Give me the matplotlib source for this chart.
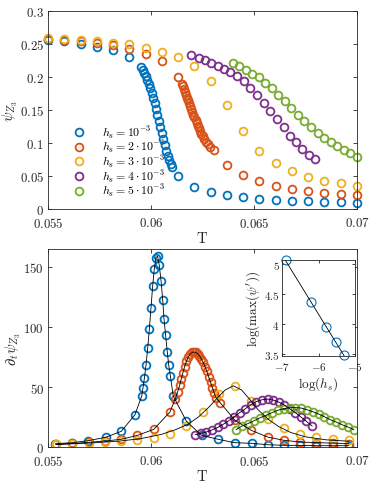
import numpy as np
import matplotlib
matplotlib.use("Agg")
import matplotlib.pyplot as plt
from matplotlib.ticker import FuncFormatter

plt.rcParams["mathtext.fontset"] = "cm"
plt.rcParams["font.family"] = "serif"

# ================ colours (MATLAB default order) ================
C_BLUE   = "#0072BD"
C_ORANGE = "#D95319"
C_YELLOW = "#EDB120"
C_PURPLE = "#7E2F8E"
C_GREEN  = "#77AC30"
C_AXIS   = "#262626"

# ================ top panel: psi_Z3 vs T ================
blue_T = [0.05500, 0.05579, 0.05658, 0.05737, 0.05816, 0.05895,
          0.05953, 0.05960, 0.05967, 0.05974, 0.05981, 0.05988, 0.05996, 0.06003,
          0.06010, 0.06017, 0.06024, 0.06031, 0.06038, 0.06045, 0.06052, 0.06059,
          0.06066, 0.06074, 0.06081, 0.06088, 0.06095, 0.06102,
          0.06132, 0.06211, 0.06289, 0.06368, 0.06447, 0.06526, 0.06605, 0.06684,
          0.06763, 0.06842, 0.06921, 0.07000]
blue_v = [0.2565, 0.2540, 0.2505, 0.2460, 0.2403, 0.2301,
          0.2150, 0.2109, 0.2064, 0.2013, 0.1958, 0.1897, 0.1831, 0.1760,
          0.1684, 0.1603, 0.1517, 0.1431, 0.1340, 0.1249, 0.1153, 0.1062,
          0.0971, 0.0885, 0.0809, 0.0744, 0.0688, 0.0632,
          0.0506, 0.0339, 0.0263, 0.0215, 0.0180, 0.0152, 0.0137, 0.0126,
          0.0116, 0.0108, 0.0101, 0.0091]

orange_T = [0.05500, 0.05579, 0.05658, 0.05737, 0.05816, 0.05895, 0.05974, 0.06053,
            0.06129, 0.06150, 0.06157, 0.06161, 0.06166, 0.06171, 0.06176, 0.06181,
            0.06186, 0.06191, 0.06196, 0.06201, 0.06205, 0.06210, 0.06217, 0.06222,
            0.06227, 0.06232, 0.06238, 0.06245, 0.06251, 0.06258, 0.06266, 0.06275,
            0.06285, 0.06304,
            0.06368, 0.06447, 0.06526, 0.06605, 0.06684, 0.06763, 0.06842, 0.06921,
            0.07000]
orange_v = [0.2575, 0.2560, 0.2540, 0.2515, 0.2480, 0.2425, 0.2350, 0.2238,
            0.1998, 0.1897, 0.1857, 0.1816, 0.1771, 0.1730, 0.1684, 0.1644,
            0.1603, 0.1557, 0.1517, 0.1472, 0.1431, 0.1391, 0.1350, 0.1310,
            0.1264, 0.1224, 0.1184, 0.1143, 0.1103, 0.1062, 0.1022, 0.0981,
            0.0941, 0.0895,
            0.0668, 0.0516, 0.0418, 0.0350, 0.0303, 0.0268, 0.0243, 0.0225,
            0.0207]

yellow_T = [0.05500, 0.05579, 0.05658, 0.05737, 0.05816, 0.05895, 0.05974, 0.06053,
            0.06132, 0.06211, 0.06289, 0.06368, 0.06447, 0.06526, 0.06605, 0.06684,
            0.06763, 0.06842, 0.06921, 0.07000]
yellow_v = [0.2595, 0.2580, 0.2554, 0.2539, 0.2519, 0.2494, 0.2443, 0.2377,
            0.2301, 0.2160, 0.1932, 0.1578, 0.1179, 0.0885, 0.0698, 0.0572,
            0.0491, 0.0430, 0.0389, 0.0344]

purple_T = [0.06196, 0.06231, 0.06262, 0.06293, 0.06324, 0.06354, 0.06385, 0.06417,
            0.06450, 0.06482, 0.06515, 0.06547, 0.06579, 0.06612, 0.06644, 0.06676,
            0.06706, 0.06735, 0.06765, 0.06798]
purple_v = [0.2327, 0.2286, 0.2256, 0.2215, 0.2165, 0.2114, 0.2074, 0.2013,
            0.1932, 0.1831, 0.1720, 0.1608, 0.1487, 0.1366, 0.1239, 0.1113,
            0.1012, 0.0910, 0.0825, 0.0759]

green_T = [0.06396, 0.06428, 0.06460, 0.06491, 0.06523, 0.06555, 0.06587, 0.06618,
           0.06650, 0.06682, 0.06714, 0.06745, 0.06777, 0.06809, 0.06841, 0.06872,
           0.06904, 0.06936, 0.06968, 0.07000]
green_v = [0.2210, 0.2165, 0.2109, 0.2049, 0.1994, 0.1912, 0.1826, 0.1730,
           0.1634, 0.1527, 0.1426, 0.1330, 0.1239, 0.1158, 0.1082, 0.1012,
           0.0950, 0.0900, 0.0845, 0.0794]

# ================ bottom panel: d/dt psi_Z3 vs T ================
blue_b_T = [0.05536, 0.05618, 0.05696, 0.05780, 0.05856, 0.05922, 0.05955, 0.05961,
            0.05968, 0.05976, 0.05984, 0.05992, 0.06000, 0.06008, 0.06016, 0.06024,
            0.06032, 0.06040, 0.06049, 0.06057, 0.06063, 0.06071, 0.06079, 0.06086,
            0.06094, 0.06108, 0.06172, 0.06246, 0.06327, 0.06406, 0.06489, 0.06568,
            0.06647, 0.06725, 0.06803, 0.06882, 0.06960]
blue_b_v = [2.8, 3.6, 5.3, 8.1, 13.1, 26.9, 42.5, 49.2,
            57.5, 68.6, 82.5, 98.6, 116.1, 133.9, 148.6, 157.8,
            158.9, 151.4, 138.1, 122.2, 106.9, 93.1, 79.2, 68.1,
            59.2, 42.5, 21.4, 9.7, 6.4, 3.6, 3.1, 1.9,
            1.4, 1.4, 1.1, 1.1, 1.1]

orange_b_T = [0.05539, 0.05618, 0.05697, 0.05776, 0.05855, 0.05934, 0.06013, 0.06092,
              0.06118, 0.06129, 0.06139, 0.06147, 0.06155, 0.06163, 0.06172, 0.06181,
              0.06190, 0.06199, 0.06208, 0.06217, 0.06226, 0.06235, 0.06244, 0.06253,
              0.06262, 0.06271, 0.06280, 0.06289, 0.06298, 0.06307, 0.06316, 0.06336,
              0.06408, 0.06487, 0.06566, 0.06645, 0.06724, 0.06803, 0.06882, 0.06960]
orange_b_v = [2.3, 3.0, 3.9, 5.0, 6.4, 9.7, 14.7, 29.2,
              40.3, 45.8, 51.4, 56.9, 62.0, 67.0, 71.5, 75.0,
              77.5, 78.8, 79.2, 78.8, 77.8, 76.0, 73.5, 70.5,
              67.0, 63.0, 58.5, 54.0, 49.5, 45.0, 41.0, 36.9,
              22.2, 13.9, 8.3, 5.6, 4.2, 3.6, 3.3, 2.8]

yellow_b_T = [0.05539, 0.05618, 0.05697, 0.05776, 0.05855, 0.05934, 0.06013, 0.06092,
              0.06171, 0.06250, 0.06329, 0.06408, 0.06487, 0.06566, 0.06645, 0.06724,
              0.06803, 0.06882, 0.06961]
yellow_b_v = [2.2, 2.5, 3.1, 3.9, 4.7, 6.1, 7.8, 10.8,
              17.2, 28.8, 44.4, 50.8, 38.2, 23.5, 16.0, 11.0,
              8.3, 6.7, 5.8]

# black fit through the sparse yellow points
yellow_fit_T = [0.05539, 0.0570, 0.0585, 0.0595, 0.0605, 0.0612, 0.0618, 0.0623,
                0.0628, 0.0632, 0.0636, 0.0640, 0.0644, 0.0648, 0.0652, 0.0657,
                0.0662, 0.0668, 0.0675, 0.0685, 0.06961]
yellow_fit_v = [2.0, 3.3, 5.0, 7.0, 10.5, 14.5, 19.0, 25.0,
                33.0, 40.5, 47.5, 51.0, 47.5, 39.5, 31.0, 23.0,
                17.0, 12.0, 8.5, 6.0, 4.8]

purple_b_T = [0.06215, 0.06243, 0.06269, 0.06296, 0.06324, 0.06350, 0.06377, 0.06405,
              0.06430, 0.06458, 0.06485, 0.06511, 0.06539, 0.06566, 0.06592, 0.06620,
              0.06647, 0.06673, 0.06701, 0.06728, 0.06754, 0.06782]
purple_b_v = [10.3, 11.4, 12.5, 14.2, 16.4, 18.9, 21.9, 25.3,
              28.6, 31.9, 35.3, 37.8, 39.4, 40.0, 39.2, 37.5,
              35.0, 31.9, 28.6, 25.0, 21.4, 17.5]

green_b_T = [0.06413, 0.06442, 0.06469, 0.06498, 0.06527, 0.06558, 0.06587, 0.06615,
             0.06644, 0.06673, 0.06701, 0.06728, 0.06757, 0.06786, 0.06814, 0.06841,
             0.06870, 0.06900, 0.06927, 0.06956, 0.06984]
green_b_v = [14.5, 17.5, 19.4, 21.7, 24.2, 26.4, 28.6, 30.6,
             31.9, 32.8, 32.8, 32.5, 31.1, 29.4, 27.5, 25.3,
             22.8, 20.8, 18.6, 16.7, 14.5]

# ================ inset: scaling of the peak height ================
log_h   = [-6.91, -6.21, -5.81, -5.52, -5.30]
log_max = [5.07, 4.38, 3.95, 3.70, 3.49]

labels = [r"$h_s = 10^{-3}$", r"$h_s = 2\cdot10^{-3}$", r"$h_s = 3\cdot10^{-3}$",
          r"$h_s = 4\cdot10^{-3}$", r"$h_s = 5\cdot10^{-3}$"]
colors = [C_BLUE, C_ORANGE, C_YELLOW, C_PURPLE, C_GREEN]

MS  = 5.6
MEW = 1.3
TICK_FS = 9.3
LABEL_FS = 10.5

math_fmt = FuncFormatter(lambda v, p: f"${v:g}$")


def style_axes(ax, fs=TICK_FS):
    for s in ax.spines.values():
        s.set_color(C_AXIS)
        s.set_linewidth(0.6)
    ax.tick_params(direction="in", top=True, right=True, length=3,
                   width=0.6, color=C_AXIS, labelcolor=C_AXIS, labelsize=fs, pad=3)
    ax.tick_params(axis="x", pad=5)
    ax.xaxis.set_major_formatter(math_fmt)
    ax.yaxis.set_major_formatter(math_fmt)


fig = plt.figure(figsize=(3.73, 4.89), dpi=100)

# -------- 1. Top panel --------
ax1 = fig.add_axes([0.1287, 0.5706, 0.8284, 0.4049])
top_sets = [(blue_T, blue_v), (orange_T, orange_v), (yellow_T, yellow_v),
            (purple_T, purple_v), (green_T, green_v)]
for (t, v), c, lab in zip(top_sets, colors, labels):
    ax1.plot(t, v, "o", mfc="none", mec=c, ms=MS, mew=MEW, label=lab, clip_on=False)
ax1.set_xlim(0.055, 0.07)
ax1.set_ylim(0, 0.3)
ax1.set_xticks([0.055, 0.06, 0.065, 0.07])
ax1.set_yticks([0, 0.05, 0.1, 0.15, 0.2, 0.25, 0.3])
style_axes(ax1)
ax1.set_xlabel(r"$\mathrm{T}$", fontsize=LABEL_FS, color=C_AXIS, labelpad=0)
ax1.set_ylabel(r"$\psi_{Z_3}$", fontsize=LABEL_FS, color=C_AXIS, labelpad=0)
leg = ax1.legend(loc="lower left", bbox_to_anchor=(0.065, 0.025), frameon=False,
                 fontsize=8.6, handlelength=1.0, handletextpad=1.4,
                 labelspacing=-0.2, borderaxespad=0)
leg.set_zorder(1)

# -------- 2. Bottom panel --------
ax2 = fig.add_axes([0.1287, 0.0838, 0.8284, 0.4050])
bot_sets = [(blue_b_T, blue_b_v), (orange_b_T, orange_b_v), (yellow_b_T, yellow_b_v),
            (purple_b_T, purple_b_v), (green_b_T, green_b_v)]
fit_sets = [(blue_b_T, blue_b_v), (orange_b_T, orange_b_v), (yellow_fit_T, yellow_fit_v),
            (purple_b_T, purple_b_v), (green_b_T, green_b_v)]
for (t, v), c in zip(bot_sets, colors):
    ax2.plot(t, v, "o", mfc="none", mec=c, ms=MS, mew=MEW, zorder=2)
for t, v in fit_sets:
    ax2.plot(t, v, "-", color="black", lw=0.6, zorder=3)
ax2.set_xlim(0.055, 0.07)
ax2.set_ylim(0, 165)
ax2.set_xticks([0.055, 0.06, 0.065, 0.07])
ax2.set_yticks([0, 50, 100, 150])
style_axes(ax2)
ax2.set_xlabel(r"$\mathrm{T}$", fontsize=LABEL_FS, color=C_AXIS, labelpad=0)
ax2.set_ylabel(r"$\partial_t\psi_{Z_3}$", fontsize=LABEL_FS, color=C_AXIS, labelpad=0)

# -------- 3. Inset --------
ax3 = fig.add_axes([0.7568, 0.2695, 0.1949, 0.1975])
ax3.plot(log_h, log_max, "o", mfc="none", mec=C_BLUE, ms=6.5, mew=0.8, clip_on=False)
coef = np.polyfit(log_h, log_max, 1)
xf = np.array([log_h[0], log_h[-1]])
ax3.plot(xf, np.polyval(coef, xf), "-", color="black", lw=0.6)
ax3.set_xlim(-7, -5)
ax3.set_ylim(3.47, 5.08)
ax3.set_xticks([-7, -6, -5])
ax3.set_yticks([3.5, 4, 4.5, 5])
style_axes(ax3, fs=8)
ax3.tick_params(length=2, pad=2)
ax3.tick_params(axis="x", pad=3)
ax3.set_xlabel(r"$\log(h_s)$", fontsize=9.5, color=C_AXIS, labelpad=1)
ax3.set_ylabel(r"$\log(\max(\psi'))$", fontsize=9.5, color=C_AXIS, labelpad=1)

fig.savefig("out.png", dpi=100)
